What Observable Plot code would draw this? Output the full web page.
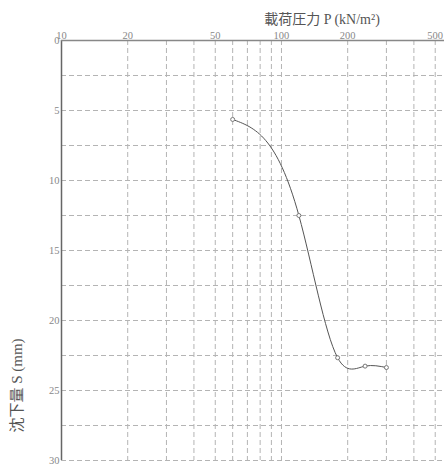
<!DOCTYPE html>
<html><head><meta charset="utf-8">
<script src="https://cdn.jsdelivr.net/npm/d3@7"></script>
<script src="https://cdn.jsdelivr.net/npm/@observablehq/plot@0.6"></script>
<style>body{margin:0;background:#fff}</style>
</head><body><div id="chart"></div>
<script>
const pressure = [60, 120, 180, 240, 300];
const settlement = [5.64, 12.5, 22.66, 23.26, 23.36];
const xTicks = [10, 20, 50, 100, 200, 500];
const xGrid = [20, 30, 40, 50, 60, 70, 80, 90, 100, 200, 300, 400, 500];
const yTicks = [0, 5, 10, 15, 20, 25, 30];
const yGrid = [2.5, 5, 7.5, 10, 12.5, 15, 17.5, 20, 22.5, 25, 27.5, 30];
const xTitle = "載荷圧力 P (kN/m²)";
const yTitle = "沈下量 S (mm)";

const data = pressure.map((p, i) => ({p, s: settlement[i]}));
const font = "'Liberation Serif', 'DejaVu Serif', 'Noto Sans CJK JP', serif";

// natural cubic spline with y as a function of x (screen space)
function naturalX(context) {
  let xs, ys;
  return {
    areaStart() {}, areaEnd() {},
    lineStart() { xs = []; ys = []; },
    point(x, y) { xs.push(+x); ys.push(+y); },
    lineEnd() {
      const n = xs.length;
      if (!n) return;
      context.moveTo(xs[0], ys[0]);
      if (n === 1) return;
      if (n === 2) { context.lineTo(xs[1], ys[1]); return; }
      const h = [], d = [];
      for (let i = 0; i < n - 1; i++) { h[i] = xs[i + 1] - xs[i]; d[i] = (ys[i + 1] - ys[i]) / h[i]; }
      const M = new Array(n).fill(0);
      const m = n - 2, a = [], b = [], c = [], r = [];
      for (let k = 0; k < m; k++) {
        const i = k + 1;
        a[k] = h[i - 1]; b[k] = 2 * (h[i - 1] + h[i]); c[k] = h[i]; r[k] = 6 * (d[i] - d[i - 1]);
      }
      for (let k = 1; k < m; k++) { const w = a[k] / b[k - 1]; b[k] -= w * c[k - 1]; r[k] -= w * r[k - 1]; }
      M[m] = r[m - 1] / b[m - 1];
      for (let k = m - 2; k >= 0; k--) M[k + 1] = (r[k] - c[k] * M[k + 2]) / b[k];
      const s = [];
      for (let i = 0; i < n - 1; i++) s[i] = d[i] - h[i] * (2 * M[i] + M[i + 1]) / 6;
      s[n - 1] = d[n - 2] + h[n - 2] * (M[n - 2] + 2 * M[n - 1]) / 6;
      for (let i = 0; i < n - 1; i++) {
        context.bezierCurveTo(xs[i] + h[i] / 3, ys[i] + s[i] * h[i] / 3,
                              xs[i + 1] - h[i] / 3, ys[i + 1] - s[i + 1] * h[i] / 3,
                              xs[i + 1], ys[i + 1]);
      }
    }
  };
}

const chart = Plot.plot({
  width: 444, height: 466,
  marginTop: 40, marginBottom: 6, marginLeft: 61, marginRight: 0,
  style: {fontFamily: font, color: "#888", background: "#fff"},
  x: {type: "log", domain: [10, 551], axis: null},
  y: {domain: [0, 30], reverse: true, axis: null},
  marks: [
    Plot.ruleX(xGrid, {stroke: "#b4b4b4", strokeDasharray: "5,3", strokeWidth: 1}),
    Plot.ruleY(yGrid, {stroke: "#b4b4b4", strokeDasharray: "5,3", strokeWidth: 1}),
    Plot.ruleX([10], {stroke: "#666", strokeWidth: 1.5}),
    Plot.ruleY([0], {stroke: "#888", strokeWidth: 1.5}),
    Plot.text(xTicks, {x: (d) => d, frameAnchor: "top", lineAnchor: "bottom", dy: -2, text: (d) => `${d}`, fontSize: 10.5, fill: "#888"}),
    Plot.text(yTicks, {y: (d) => d, frameAnchor: "left", textAnchor: "end", dx: -2, text: (d) => `${d}`, fontSize: 10.5, fill: "#888"}),
    Plot.line(data, {x: "p", y: "s", curve: naturalX, stroke: "#555", strokeWidth: 1}),
    Plot.dot(data, {x: "p", y: "s", r: 2, stroke: "#777", fill: "#fff", strokeWidth: 1}),
    Plot.text([xTitle], {frameAnchor: "top", dx: 69, dy: -26, fontSize: 14, fill: "#555", fontFamily: font}),
    Plot.text([yTitle], {frameAnchor: "bottom-left", dx: -40, dy: -75, rotate: -90, textAnchor: "middle", fontSize: 15, fill: "#555", fontFamily: font})
  ]
});
document.getElementById("chart").appendChild(chart);
</script></body></html>
